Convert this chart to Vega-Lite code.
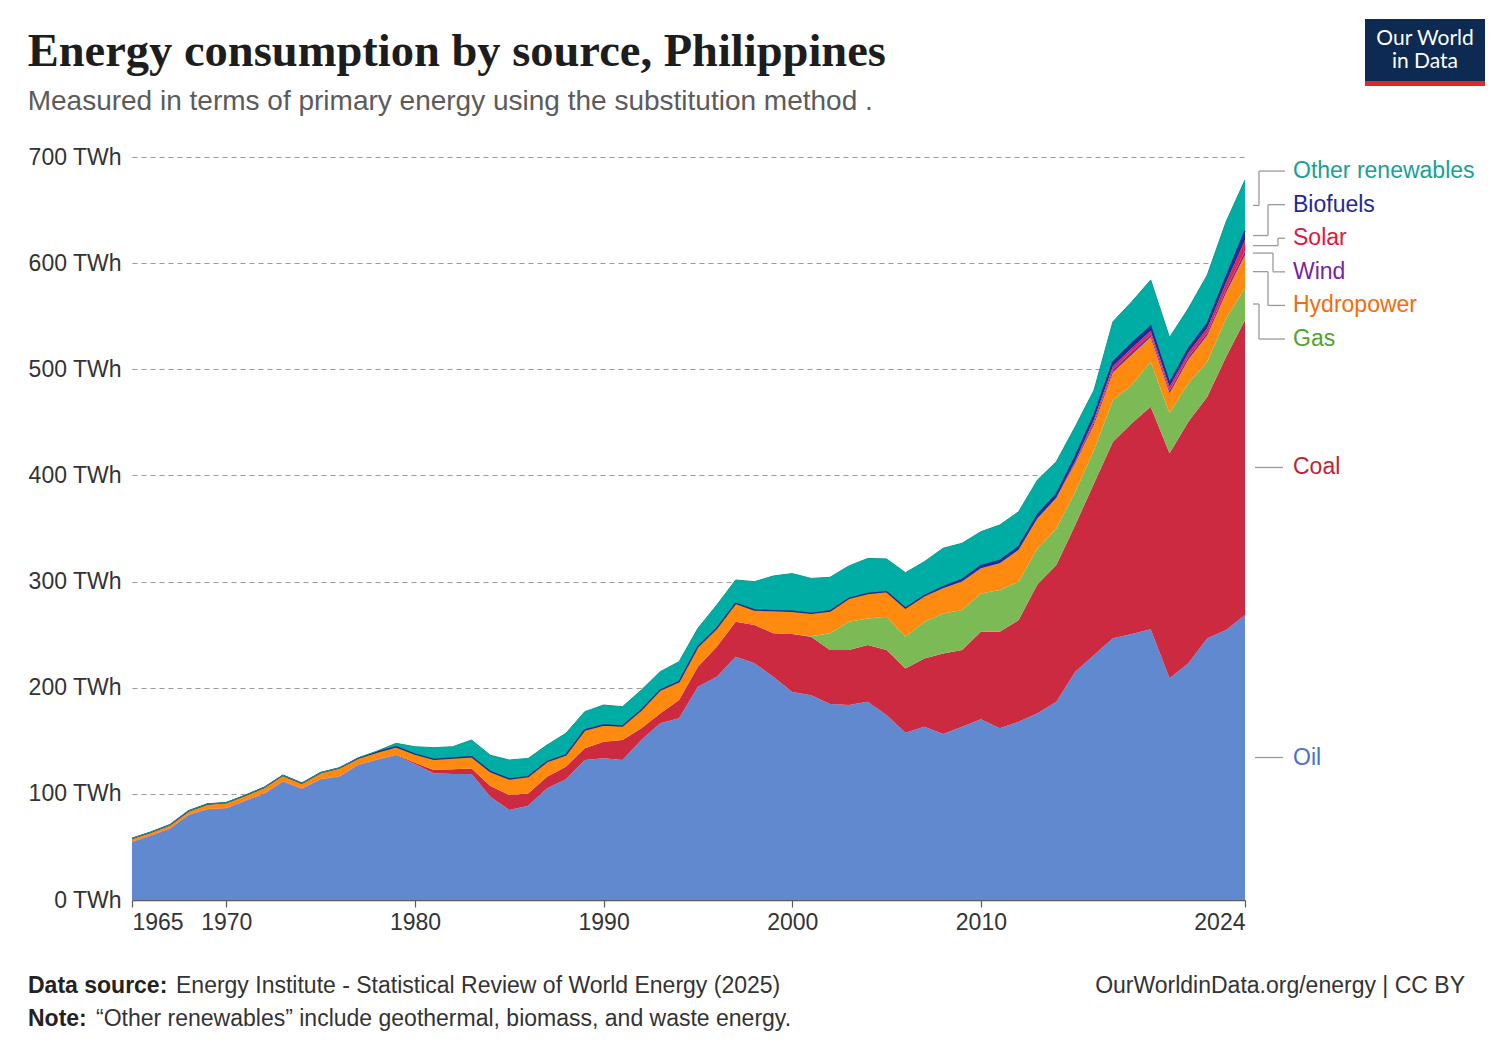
{
  "$schema": "https://vega.github.io/schema/vega-lite/v6.json",
  "description": "Energy consumption by source, Philippines (primary energy, substitution method)",
  "width": 1113,
  "height": 743,
  "autosize": {"type": "none"},
  "padding": {"left": 132, "top": 157, "right": 253, "bottom": 150},
  "background": "white",
  "config": {"view": {"stroke": null}, "font": "Liberation Sans"},
  "title": {
    "text": "Energy consumption by source, Philippines",
    "subtitle": "Measured in terms of primary energy using the substitution method .",
    "anchor": "start",
    "frame": "bounds",
    "font": "Liberation Serif",
    "fontSize": 46.5,
    "fontWeight": "bold",
    "color": "#1d1d1d",
    "subtitleFont": "Liberation Sans",
    "subtitleFontSize": 28,
    "subtitleColor": "#5b5b5b",
    "subtitlePadding": 13,
    "offset": -97
  },
  "datasets": {
    "energy": [
      {"year":1965,"source":"Oil","twh":54.3},{"year":1965,"source":"Coal","twh":0.5},{"year":1965,"source":"Gas","twh":0},{"year":1965,"source":"Hydropower","twh":3.2},{"year":1965,"source":"Wind","twh":0},{"year":1965,"source":"Solar","twh":0},{"year":1965,"source":"Biofuels","twh":0},{"year":1965,"source":"Other renewables","twh":0},
      {"year":1966,"source":"Oil","twh":60.6},{"year":1966,"source":"Coal","twh":0.4},{"year":1966,"source":"Gas","twh":0},{"year":1966,"source":"Hydropower","twh":3.0},{"year":1966,"source":"Wind","twh":0},{"year":1966,"source":"Solar","twh":0},{"year":1966,"source":"Biofuels","twh":0},{"year":1966,"source":"Other renewables","twh":0},
      {"year":1967,"source":"Oil","twh":66.9},{"year":1967,"source":"Coal","twh":0.4},{"year":1967,"source":"Gas","twh":0},{"year":1967,"source":"Hydropower","twh":3.4},{"year":1967,"source":"Wind","twh":0},{"year":1967,"source":"Solar","twh":0},{"year":1967,"source":"Biofuels","twh":0},{"year":1967,"source":"Other renewables","twh":0},
      {"year":1968,"source":"Oil","twh":80.0},{"year":1968,"source":"Coal","twh":0.4},{"year":1968,"source":"Gas","twh":0},{"year":1968,"source":"Hydropower","twh":3.6},{"year":1968,"source":"Wind","twh":0},{"year":1968,"source":"Solar","twh":0},{"year":1968,"source":"Biofuels","twh":0},{"year":1968,"source":"Other renewables","twh":0},
      {"year":1969,"source":"Oil","twh":85.4},{"year":1969,"source":"Coal","twh":0.4},{"year":1969,"source":"Gas","twh":0},{"year":1969,"source":"Hydropower","twh":4.6},{"year":1969,"source":"Wind","twh":0},{"year":1969,"source":"Solar","twh":0},{"year":1969,"source":"Biofuels","twh":0},{"year":1969,"source":"Other renewables","twh":0},
      {"year":1970,"source":"Oil","twh":86.3},{"year":1970,"source":"Coal","twh":0.4},{"year":1970,"source":"Gas","twh":0},{"year":1970,"source":"Hydropower","twh":5.0},{"year":1970,"source":"Wind","twh":0},{"year":1970,"source":"Solar","twh":0},{"year":1970,"source":"Biofuels","twh":0},{"year":1970,"source":"Other renewables","twh":0},
      {"year":1971,"source":"Oil","twh":93.3},{"year":1971,"source":"Coal","twh":0.4},{"year":1971,"source":"Gas","twh":0},{"year":1971,"source":"Hydropower","twh":4.9},{"year":1971,"source":"Wind","twh":0},{"year":1971,"source":"Solar","twh":0},{"year":1971,"source":"Biofuels","twh":0},{"year":1971,"source":"Other renewables","twh":0},
      {"year":1972,"source":"Oil","twh":99.9},{"year":1972,"source":"Coal","twh":0.4},{"year":1972,"source":"Gas","twh":0},{"year":1972,"source":"Hydropower","twh":5.7},{"year":1972,"source":"Wind","twh":0},{"year":1972,"source":"Solar","twh":0},{"year":1972,"source":"Biofuels","twh":0},{"year":1972,"source":"Other renewables","twh":0},
      {"year":1973,"source":"Oil","twh":111.5},{"year":1973,"source":"Coal","twh":0.4},{"year":1973,"source":"Gas","twh":0},{"year":1973,"source":"Hydropower","twh":5.6},{"year":1973,"source":"Wind","twh":0},{"year":1973,"source":"Solar","twh":0},{"year":1973,"source":"Biofuels","twh":0},{"year":1973,"source":"Other renewables","twh":0},
      {"year":1974,"source":"Oil","twh":104.6},{"year":1974,"source":"Coal","twh":0.4},{"year":1974,"source":"Gas","twh":0},{"year":1974,"source":"Hydropower","twh":5.0},{"year":1974,"source":"Wind","twh":0},{"year":1974,"source":"Solar","twh":0},{"year":1974,"source":"Biofuels","twh":0},{"year":1974,"source":"Other renewables","twh":0},
      {"year":1975,"source":"Oil","twh":113.7},{"year":1975,"source":"Coal","twh":0.4},{"year":1975,"source":"Gas","twh":0},{"year":1975,"source":"Hydropower","twh":5.9},{"year":1975,"source":"Wind","twh":0},{"year":1975,"source":"Solar","twh":0},{"year":1975,"source":"Biofuels","twh":0},{"year":1975,"source":"Other renewables","twh":0},
      {"year":1976,"source":"Oil","twh":116.2},{"year":1976,"source":"Coal","twh":0.4},{"year":1976,"source":"Gas","twh":0},{"year":1976,"source":"Hydropower","twh":7.8},{"year":1976,"source":"Wind","twh":0},{"year":1976,"source":"Solar","twh":0},{"year":1976,"source":"Biofuels","twh":0},{"year":1976,"source":"Other renewables","twh":0},
      {"year":1977,"source":"Oil","twh":127.2},{"year":1977,"source":"Coal","twh":0.5},{"year":1977,"source":"Gas","twh":0},{"year":1977,"source":"Hydropower","twh":6.0},{"year":1977,"source":"Wind","twh":0},{"year":1977,"source":"Solar","twh":0},{"year":1977,"source":"Biofuels","twh":0},{"year":1977,"source":"Other renewables","twh":0.3},
      {"year":1978,"source":"Oil","twh":131.9},{"year":1978,"source":"Coal","twh":0.5},{"year":1978,"source":"Gas","twh":0},{"year":1978,"source":"Hydropower","twh":7.0},{"year":1978,"source":"Wind","twh":0},{"year":1978,"source":"Solar","twh":0},{"year":1978,"source":"Biofuels","twh":0},{"year":1978,"source":"Other renewables","twh":1.0},
      {"year":1979,"source":"Oil","twh":136.3},{"year":1979,"source":"Coal","twh":0.6},{"year":1979,"source":"Gas","twh":0},{"year":1979,"source":"Hydropower","twh":7.5},{"year":1979,"source":"Wind","twh":0},{"year":1979,"source":"Solar","twh":0},{"year":1979,"source":"Biofuels","twh":0},{"year":1979,"source":"Other renewables","twh":3.2},
      {"year":1980,"source":"Oil","twh":127.8},{"year":1980,"source":"Coal","twh":1.5},{"year":1980,"source":"Gas","twh":0},{"year":1980,"source":"Hydropower","twh":8.2},{"year":1980,"source":"Wind","twh":0},{"year":1980,"source":"Solar","twh":0},{"year":1980,"source":"Biofuels","twh":0},{"year":1980,"source":"Other renewables","twh":6.9},
      {"year":1981,"source":"Oil","twh":119.4},{"year":1981,"source":"Coal","twh":3.1},{"year":1981,"source":"Gas","twh":0},{"year":1981,"source":"Hydropower","twh":10.0},{"year":1981,"source":"Wind","twh":0},{"year":1981,"source":"Solar","twh":0},{"year":1981,"source":"Biofuels","twh":0},{"year":1981,"source":"Other renewables","twh":11.0},
      {"year":1982,"source":"Oil","twh":118.7},{"year":1982,"source":"Coal","twh":4.4},{"year":1982,"source":"Gas","twh":0},{"year":1982,"source":"Hydropower","twh":10.7},{"year":1982,"source":"Wind","twh":0},{"year":1982,"source":"Solar","twh":0},{"year":1982,"source":"Biofuels","twh":0},{"year":1982,"source":"Other renewables","twh":10.6},
      {"year":1983,"source":"Oil","twh":118.7},{"year":1983,"source":"Coal","twh":5.3},{"year":1983,"source":"Gas","twh":0},{"year":1983,"source":"Hydropower","twh":11.0},{"year":1983,"source":"Wind","twh":0},{"year":1983,"source":"Solar","twh":0},{"year":1983,"source":"Biofuels","twh":0},{"year":1983,"source":"Other renewables","twh":15.7},
      {"year":1984,"source":"Oil","twh":97.3},{"year":1984,"source":"Coal","twh":10.1},{"year":1984,"source":"Gas","twh":0},{"year":1984,"source":"Hydropower","twh":13.5},{"year":1984,"source":"Wind","twh":0},{"year":1984,"source":"Solar","twh":0},{"year":1984,"source":"Biofuels","twh":0},{"year":1984,"source":"Other renewables","twh":15.4},
      {"year":1985,"source":"Oil","twh":84.8},{"year":1985,"source":"Coal","twh":14.1},{"year":1985,"source":"Gas","twh":0},{"year":1985,"source":"Hydropower","twh":15.1},{"year":1985,"source":"Wind","twh":0},{"year":1985,"source":"Solar","twh":0},{"year":1985,"source":"Biofuels","twh":0},{"year":1985,"source":"Other renewables","twh":17.9},
      {"year":1986,"source":"Oil","twh":88.9},{"year":1986,"source":"Coal","twh":11.5},{"year":1986,"source":"Gas","twh":0},{"year":1986,"source":"Hydropower","twh":15.8},{"year":1986,"source":"Wind","twh":0},{"year":1986,"source":"Solar","twh":0},{"year":1986,"source":"Biofuels","twh":0},{"year":1986,"source":"Other renewables","twh":17.2},
      {"year":1987,"source":"Oil","twh":105.2},{"year":1987,"source":"Coal","twh":11.0},{"year":1987,"source":"Gas","twh":0},{"year":1987,"source":"Hydropower","twh":14.1},{"year":1987,"source":"Wind","twh":0},{"year":1987,"source":"Solar","twh":0},{"year":1987,"source":"Biofuels","twh":0},{"year":1987,"source":"Other renewables","twh":15.7},
      {"year":1988,"source":"Oil","twh":113.7},{"year":1988,"source":"Coal","twh":11.9},{"year":1988,"source":"Gas","twh":0},{"year":1988,"source":"Hydropower","twh":11.0},{"year":1988,"source":"Wind","twh":0},{"year":1988,"source":"Solar","twh":0},{"year":1988,"source":"Biofuels","twh":0},{"year":1988,"source":"Other renewables","twh":20.4},
      {"year":1989,"source":"Oil","twh":131.9},{"year":1989,"source":"Coal","twh":11.0},{"year":1989,"source":"Gas","twh":0},{"year":1989,"source":"Hydropower","twh":17.3},{"year":1989,"source":"Wind","twh":0},{"year":1989,"source":"Solar","twh":0},{"year":1989,"source":"Biofuels","twh":0},{"year":1989,"source":"Other renewables","twh":17.2},
      {"year":1990,"source":"Oil","twh":133.5},{"year":1990,"source":"Coal","twh":15.7},{"year":1990,"source":"Gas","twh":0},{"year":1990,"source":"Hydropower","twh":15.7},{"year":1990,"source":"Wind","twh":0},{"year":1990,"source":"Solar","twh":0},{"year":1990,"source":"Biofuels","twh":0},{"year":1990,"source":"Other renewables","twh":18.8},
      {"year":1991,"source":"Oil","twh":131.9},{"year":1991,"source":"Coal","twh":18.8},{"year":1991,"source":"Gas","twh":0},{"year":1991,"source":"Hydropower","twh":13.2},{"year":1991,"source":"Wind","twh":0},{"year":1991,"source":"Solar","twh":0},{"year":1991,"source":"Biofuels","twh":0},{"year":1991,"source":"Other renewables","twh":18.2},
      {"year":1992,"source":"Oil","twh":150.7},{"year":1992,"source":"Coal","twh":11.0},{"year":1992,"source":"Gas","twh":0},{"year":1992,"source":"Hydropower","twh":17.3},{"year":1992,"source":"Wind","twh":0},{"year":1992,"source":"Solar","twh":0},{"year":1992,"source":"Biofuels","twh":0},{"year":1992,"source":"Other renewables","twh":18.8},
      {"year":1993,"source":"Oil","twh":166.5},{"year":1993,"source":"Coal","twh":9.3},{"year":1993,"source":"Gas","twh":0},{"year":1993,"source":"Hydropower","twh":22.0},{"year":1993,"source":"Wind","twh":0},{"year":1993,"source":"Solar","twh":0},{"year":1993,"source":"Biofuels","twh":0},{"year":1993,"source":"Other renewables","twh":17.3},
      {"year":1994,"source":"Oil","twh":171.2},{"year":1994,"source":"Coal","twh":17.2},{"year":1994,"source":"Gas","twh":0},{"year":1994,"source":"Hydropower","twh":17.3},{"year":1994,"source":"Wind","twh":0},{"year":1994,"source":"Solar","twh":0},{"year":1994,"source":"Biofuels","twh":0},{"year":1994,"source":"Other renewables","twh":18.8},
      {"year":1995,"source":"Oil","twh":201.0},{"year":1995,"source":"Coal","twh":18.8},{"year":1995,"source":"Gas","twh":0},{"year":1995,"source":"Hydropower","twh":18.8},{"year":1995,"source":"Wind","twh":0},{"year":1995,"source":"Solar","twh":0},{"year":1995,"source":"Biofuels","twh":0},{"year":1995,"source":"Other renewables","twh":17.4},
      {"year":1996,"source":"Oil","twh":210.4},{"year":1996,"source":"Coal","twh":28.2},{"year":1996,"source":"Gas","twh":0},{"year":1996,"source":"Hydropower","twh":17.4},{"year":1996,"source":"Wind","twh":0},{"year":1996,"source":"Solar","twh":0},{"year":1996,"source":"Biofuels","twh":0},{"year":1996,"source":"Other renewables","twh":21.9},
      {"year":1997,"source":"Oil","twh":229.2},{"year":1997,"source":"Coal","twh":32.9},{"year":1997,"source":"Gas","twh":0},{"year":1997,"source":"Hydropower","twh":17.3},{"year":1997,"source":"Wind","twh":0},{"year":1997,"source":"Solar","twh":0},{"year":1997,"source":"Biofuels","twh":0},{"year":1997,"source":"Other renewables","twh":22.1},
      {"year":1998,"source":"Oil","twh":223.0},{"year":1998,"source":"Coal","twh":36.1},{"year":1998,"source":"Gas","twh":0},{"year":1998,"source":"Hydropower","twh":14.1},{"year":1998,"source":"Wind","twh":0},{"year":1998,"source":"Solar","twh":0},{"year":1998,"source":"Biofuels","twh":0},{"year":1998,"source":"Other renewables","twh":26.7},
      {"year":1999,"source":"Oil","twh":210.4},{"year":1999,"source":"Coal","twh":40.8},{"year":1999,"source":"Gas","twh":0},{"year":1999,"source":"Hydropower","twh":21.4},{"year":1999,"source":"Wind","twh":0},{"year":1999,"source":"Solar","twh":0},{"year":1999,"source":"Biofuels","twh":0},{"year":1999,"source":"Other renewables","twh":32.7},
      {"year":2000,"source":"Oil","twh":196.0},{"year":2000,"source":"Coal","twh":54.5},{"year":2000,"source":"Gas","twh":0},{"year":2000,"source":"Hydropower","twh":21.5},{"year":2000,"source":"Wind","twh":0},{"year":2000,"source":"Solar","twh":0},{"year":2000,"source":"Biofuels","twh":0},{"year":2000,"source":"Other renewables","twh":35.5},
      {"year":2001,"source":"Oil","twh":193.0},{"year":2001,"source":"Coal","twh":55.0},{"year":2001,"source":"Gas","twh":0.5},{"year":2001,"source":"Hydropower","twh":21.5},{"year":2001,"source":"Wind","twh":0},{"year":2001,"source":"Solar","twh":0},{"year":2001,"source":"Biofuels","twh":0},{"year":2001,"source":"Other renewables","twh":33.0},
      {"year":2002,"source":"Oil","twh":184.7},{"year":2002,"source":"Coal","twh":50.8},{"year":2002,"source":"Gas","twh":15.7},{"year":2002,"source":"Hydropower","twh":21.1},{"year":2002,"source":"Wind","twh":0},{"year":2002,"source":"Solar","twh":0},{"year":2002,"source":"Biofuels","twh":0},{"year":2002,"source":"Other renewables","twh":31.7},
      {"year":2003,"source":"Oil","twh":183.7},{"year":2003,"source":"Coal","twh":51.8},{"year":2003,"source":"Gas","twh":26.6},{"year":2003,"source":"Hydropower","twh":22.0},{"year":2003,"source":"Wind","twh":0},{"year":2003,"source":"Solar","twh":0},{"year":2003,"source":"Biofuels","twh":0},{"year":2003,"source":"Other renewables","twh":30.6},
      {"year":2004,"source":"Oil","twh":186.8},{"year":2004,"source":"Coal","twh":53.4},{"year":2004,"source":"Gas","twh":25.1},{"year":2004,"source":"Hydropower","twh":23.5},{"year":2004,"source":"Wind","twh":0},{"year":2004,"source":"Solar","twh":0},{"year":2004,"source":"Biofuels","twh":0},{"year":2004,"source":"Other renewables","twh":33.0},
      {"year":2005,"source":"Oil","twh":174.3},{"year":2005,"source":"Coal","twh":61.2},{"year":2005,"source":"Gas","twh":31.4},{"year":2005,"source":"Hydropower","twh":23.5},{"year":2005,"source":"Wind","twh":0.1},{"year":2005,"source":"Solar","twh":0},{"year":2005,"source":"Biofuels","twh":0},{"year":2005,"source":"Other renewables","twh":30.8},
      {"year":2006,"source":"Oil","twh":157.6},{"year":2006,"source":"Coal","twh":60.6},{"year":2006,"source":"Gas","twh":29.8},{"year":2006,"source":"Hydropower","twh":26.8},{"year":2006,"source":"Wind","twh":0.2},{"year":2006,"source":"Solar","twh":0},{"year":2006,"source":"Biofuels","twh":0},{"year":2006,"source":"Other renewables","twh":33.4},
      {"year":2007,"source":"Oil","twh":163.3},{"year":2007,"source":"Coal","twh":64.3},{"year":2007,"source":"Gas","twh":34.5},{"year":2007,"source":"Hydropower","twh":23.6},{"year":2007,"source":"Wind","twh":0.2},{"year":2007,"source":"Solar","twh":0},{"year":2007,"source":"Biofuels","twh":0.8},{"year":2007,"source":"Other renewables","twh":32.0},
      {"year":2008,"source":"Oil","twh":156.4},{"year":2008,"source":"Coal","twh":75.9},{"year":2008,"source":"Gas","twh":37.7},{"year":2008,"source":"Hydropower","twh":23.6},{"year":2008,"source":"Wind","twh":0.2},{"year":2008,"source":"Solar","twh":0},{"year":2008,"source":"Biofuels","twh":1.5},{"year":2008,"source":"Other renewables","twh":36.1},
      {"year":2009,"source":"Oil","twh":163.3},{"year":2009,"source":"Coal","twh":72.2},{"year":2009,"source":"Gas","twh":37.7},{"year":2009,"source":"Hydropower","twh":26.7},{"year":2009,"source":"Wind","twh":0.2},{"year":2009,"source":"Solar","twh":0},{"year":2009,"source":"Biofuels","twh":2.0},{"year":2009,"source":"Other renewables","twh":34.0},
      {"year":2010,"source":"Oil","twh":170.2},{"year":2010,"source":"Coal","twh":82.5},{"year":2010,"source":"Gas","twh":36.1},{"year":2010,"source":"Hydropower","twh":23.6},{"year":2010,"source":"Wind","twh":0.2},{"year":2010,"source":"Solar","twh":0},{"year":2010,"source":"Biofuels","twh":2.3},{"year":2010,"source":"Other renewables","twh":32.1},
      {"year":2011,"source":"Oil","twh":161.7},{"year":2011,"source":"Coal","twh":91.0},{"year":2011,"source":"Gas","twh":39.3},{"year":2011,"source":"Hydropower","twh":25.1},{"year":2011,"source":"Wind","twh":0.2},{"year":2011,"source":"Solar","twh":0},{"year":2011,"source":"Biofuels","twh":2.6},{"year":2011,"source":"Other renewables","twh":33.4},
      {"year":2012,"source":"Oil","twh":168.0},{"year":2012,"source":"Coal","twh":95.8},{"year":2012,"source":"Gas","twh":36.1},{"year":2012,"source":"Hydropower","twh":29.9},{"year":2012,"source":"Wind","twh":0.2},{"year":2012,"source":"Solar","twh":0},{"year":2012,"source":"Biofuels","twh":3.0},{"year":2012,"source":"Other renewables","twh":32.8},
      {"year":2013,"source":"Oil","twh":176.0},{"year":2013,"source":"Coal","twh":121.5},{"year":2013,"source":"Gas","twh":33.9},{"year":2013,"source":"Hydropower","twh":28.1},{"year":2013,"source":"Wind","twh":0.2},{"year":2013,"source":"Solar","twh":0},{"year":2013,"source":"Biofuels","twh":3.3},{"year":2013,"source":"Other renewables","twh":32.7},
      {"year":2014,"source":"Oil","twh":186.8},{"year":2014,"source":"Coal","twh":128.8},{"year":2014,"source":"Gas","twh":34.5},{"year":2014,"source":"Hydropower","twh":28.3},{"year":2014,"source":"Wind","twh":0.4},{"year":2014,"source":"Solar","twh":0.1},{"year":2014,"source":"Biofuels","twh":3.6},{"year":2014,"source":"Other renewables","twh":30.5},
      {"year":2015,"source":"Oil","twh":215.1},{"year":2015,"source":"Coal","twh":138.2},{"year":2015,"source":"Gas","twh":31.4},{"year":2015,"source":"Hydropower","twh":26.7},{"year":2015,"source":"Wind","twh":1.9},{"year":2015,"source":"Solar","twh":0.4},{"year":2015,"source":"Biofuels","twh":4.0},{"year":2015,"source":"Other renewables","twh":28.2},
      {"year":2016,"source":"Oil","twh":230.8},{"year":2016,"source":"Coal","twh":161.8},{"year":2016,"source":"Gas","twh":31.4},{"year":2016,"source":"Hydropower","twh":24.0},{"year":2016,"source":"Wind","twh":2.4},{"year":2016,"source":"Solar","twh":2.6},{"year":2016,"source":"Biofuels","twh":4.2},{"year":2016,"source":"Other renewables","twh":23.3},
      {"year":2017,"source":"Oil","twh":246.5},{"year":2017,"source":"Coal","twh":185.3},{"year":2017,"source":"Gas","twh":39.3},{"year":2017,"source":"Hydropower","twh":25.9},{"year":2017,"source":"Wind","twh":2.8},{"year":2017,"source":"Solar","twh":3.0},{"year":2017,"source":"Biofuels","twh":4.4},{"year":2017,"source":"Other renewables","twh":37.7},
      {"year":2018,"source":"Oil","twh":250.6},{"year":2018,"source":"Coal","twh":198.5},{"year":2018,"source":"Gas","twh":36.1},{"year":2018,"source":"Hydropower","twh":28.5},{"year":2018,"source":"Wind","twh":3.0},{"year":2018,"source":"Solar","twh":3.2},{"year":2018,"source":"Biofuels","twh":4.6},{"year":2018,"source":"Other renewables","twh":39.2},
      {"year":2019,"source":"Oil","twh":255.0},{"year":2019,"source":"Coal","twh":209.7},{"year":2019,"source":"Gas","twh":42.5},{"year":2019,"source":"Hydropower","twh":23.0},{"year":2019,"source":"Wind","twh":2.6},{"year":2019,"source":"Solar","twh":3.2},{"year":2019,"source":"Biofuels","twh":4.8},{"year":2019,"source":"Other renewables","twh":43.3},
      {"year":2020,"source":"Oil","twh":208.9},{"year":2020,"source":"Coal","twh":211.9},{"year":2020,"source":"Gas","twh":37.7},{"year":2020,"source":"Hydropower","twh":18.8},{"year":2020,"source":"Wind","twh":2.6},{"year":2020,"source":"Solar","twh":3.3},{"year":2020,"source":"Biofuels","twh":3.8},{"year":2020,"source":"Other renewables","twh":43.0},
      {"year":2021,"source":"Oil","twh":223.0},{"year":2021,"source":"Coal","twh":227.6},{"year":2021,"source":"Gas","twh":36.2},{"year":2021,"source":"Hydropower","twh":22.4},{"year":2021,"source":"Wind","twh":2.8},{"year":2021,"source":"Solar","twh":3.6},{"year":2021,"source":"Biofuels","twh":4.2},{"year":2021,"source":"Other renewables","twh":37.6},
      {"year":2022,"source":"Oil","twh":246.5},{"year":2022,"source":"Coal","twh":227.6},{"year":2022,"source":"Gas","twh":33.1},{"year":2022,"source":"Hydropower","twh":24.7},{"year":2022,"source":"Wind","twh":2.6},{"year":2022,"source":"Solar","twh":4.2},{"year":2022,"source":"Biofuels","twh":4.6},{"year":2022,"source":"Other renewables","twh":45.5},
      {"year":2023,"source":"Oil","twh":254.4},{"year":2023,"source":"Coal","twh":257.5},{"year":2023,"source":"Gas","twh":36.1},{"year":2023,"source":"Hydropower","twh":24.0},{"year":2023,"source":"Wind","twh":3.5},{"year":2023,"source":"Solar","twh":6.0},{"year":2023,"source":"Biofuels","twh":6.0},{"year":2023,"source":"Other renewables","twh":51.6},
      {"year":2024,"source":"Oil","twh":268.5},{"year":2024,"source":"Coal","twh":278.0},{"year":2024,"source":"Gas","twh":30.0},{"year":2024,"source":"Hydropower","twh":31.0},{"year":2024,"source":"Wind","twh":4.0},{"year":2024,"source":"Solar","twh":10.0},{"year":2024,"source":"Biofuels","twh":9.0},{"year":2024,"source":"Other renewables","twh":47.8}
    ],
    "notes": [{"note": "x"}]
  },
  "resolve": {"scale": {"color": "independent"}},
  "layer": [
    {
      "data": {"name": "energy"},
      "transform": [
        {"calculate": "indexof(['Oil','Coal','Gas','Hydropower','Wind','Solar','Biofuels','Other renewables'], datum.source)", "as": "rank"}
      ],
      "mark": {"type": "area", "interpolate": "linear"},
      "encoding": {
        "x": {
          "field": "year",
          "type": "quantitative",
          "scale": {"domain": [1965, 2024], "nice": false, "zero": false},
          "axis": {
            "title": null,
            "values": [1965, 1970, 1980, 1990, 2000, 2010, 2024],
            "format": "d",
            "grid": false,
            "domainColor": "#5b5b5b",
            "domainWidth": 1.5,
            "tickColor": "#5b5b5b",
            "tickWidth": 1.2,
            "tickSize": 7,
            "labelFontSize": 23,
            "labelColor": "#333333",
            "labelPadding": 4,
            "labelFlush": true,
            "labelOverlap": false
          }
        },
        "y": {
          "field": "twh",
          "type": "quantitative",
          "stack": "zero",
          "scale": {"domain": [0, 700], "nice": false},
          "axis": {
            "title": null,
            "values": [0, 100, 200, 300, 400, 500, 600, 700],
            "labelExpr": "datum.value + ' TWh'",
            "grid": true,
            "gridDash": [5, 4],
            "gridColor": "#9a9a9a",
            "gridWidth": 1,
            "domain": false,
            "ticks": false,
            "labelFontSize": 23,
            "labelColor": "#333333",
            "labelPadding": 11
          }
        },
        "color": {
          "field": "source",
          "type": "nominal",
          "scale": {
            "domain": ["Oil", "Coal", "Gas", "Hydropower", "Wind", "Solar", "Biofuels", "Other renewables"],
            "range": ["#6089d0", "#cc2a40", "#7cba56", "#ff8a10", "#7b2ba6", "#ec2245", "#1e2ca0", "#00ada4"]
          },
          "legend": null
        },
        "order": {"field": "rank", "type": "quantitative", "sort": "ascending"}
      }
    },
    {
      "data": {"name": "energy"},
      "transform": [
        {"filter": "datum.source != 'Other renewables'"},
        {"aggregate": [{"op": "sum", "field": "twh", "as": "below"}], "groupby": ["year"]}
      ],
      "mark": {"type": "line", "color": "#1b2a8f", "strokeWidth": 1.4},
      "encoding": {
        "x": {"field": "year", "type": "quantitative"},
        "y": {"field": "below", "type": "quantitative"}
      }
    },
    {
      "data": {"name": "energy"},
      "transform": [
        {"aggregate": [{"op": "sum", "field": "twh", "as": "total"}], "groupby": ["year"]}
      ],
      "mark": {"type": "line", "color": "#0a9990", "strokeWidth": 1},
      "encoding": {
        "x": {"field": "year", "type": "quantitative"},
        "y": {"field": "total", "type": "quantitative"}
      }
    },
    {
      "data": {"name": "energy"},
      "transform": [
        {"filter": "datum.year == 2024"},
        {"calculate": "indexof(['Oil','Coal','Gas','Hydropower','Wind','Solar','Biofuels','Other renewables'], datum.source)", "as": "rank"},
        {"stack": "twh", "groupby": ["year"], "sort": [{"field": "rank", "order": "ascending"}], "as": ["lo", "hi"]},
        {"calculate": "(datum.lo + datum.hi) / 2", "as": "mid"},
        {"calculate": "datum.rank >= 2 ? 528.5 + (datum.rank - 2) * 31.65 : datum.mid", "as": "labelAt"},
        {"calculate": "2024 + (datum.rank >= 2 ? 8 : 10) / 18.864", "as": "x0"},
        {"calculate": "2024 + [10, 10, 14, 23, 28, 33, 23, 14][datum.rank] / 18.864", "as": "xElbow"},
        {"calculate": "2024 + (datum.rank >= 2 ? 40 : 38) / 18.864", "as": "x1"}
      ],
      "layer": [
        {
          "mark": {"type": "rule", "color": "#9a9a9a", "strokeWidth": 1.3},
          "encoding": {
            "x": {"field": "x0", "type": "quantitative"},
            "x2": {"field": "xElbow"},
            "y": {"field": "mid", "type": "quantitative"}
          }
        },
        {
          "mark": {"type": "rule", "color": "#9a9a9a", "strokeWidth": 1.3},
          "encoding": {
            "x": {"field": "xElbow", "type": "quantitative"},
            "y": {"field": "mid", "type": "quantitative"},
            "y2": {"field": "labelAt"}
          }
        },
        {
          "mark": {"type": "rule", "color": "#9a9a9a", "strokeWidth": 1.3},
          "encoding": {
            "x": {"field": "xElbow", "type": "quantitative"},
            "x2": {"field": "x1"},
            "y": {"field": "labelAt", "type": "quantitative"}
          }
        },
        {
          "mark": {"type": "text", "align": "left", "baseline": "middle", "dx": 48, "fontSize": 23},
          "encoding": {
            "x": {"field": "year", "type": "quantitative"},
            "y": {"field": "labelAt", "type": "quantitative"},
            "text": {"field": "source"},
            "color": {
              "field": "source",
              "type": "nominal",
              "scale": {
                "domain": ["Oil", "Coal", "Gas", "Hydropower", "Wind", "Solar", "Biofuels", "Other renewables"],
                "range": ["#4a72c9", "#c21f35", "#52a32b", "#f46b0c", "#7a1fa2", "#e3173e", "#1c2a9a", "#16a295"]
              },
              "legend": null
            }
          }
        }
      ]
    },
    {
      "data": {"values": [{"box": "logo"}]},
      "layer": [
        {
          "mark": {"type": "rect", "color": "#0d2a52", "xOffset": 120, "x2Offset": 240, "yOffset": -138, "y2Offset": -76},
          "encoding": {"x": {"datum": 2024}, "x2": {"datum": 2024}, "y": {"datum": 700}, "y2": {"datum": 700}}
        },
        {
          "mark": {"type": "rect", "color": "#dc2a24", "xOffset": 120, "x2Offset": 240, "yOffset": -76, "y2Offset": -71},
          "encoding": {"x": {"datum": 2024}, "x2": {"datum": 2024}, "y": {"datum": 700}, "y2": {"datum": 700}}
        },
        {
          "mark": {"type": "text", "color": "white", "font": "Lato", "fontSize": 21, "align": "center", "baseline": "middle", "dx": 180, "dy": -118},
          "encoding": {"x": {"datum": 2024}, "y": {"datum": 700}, "text": {"value": "Our World"}}
        },
        {
          "mark": {"type": "text", "color": "white", "font": "Lato", "fontSize": 21, "align": "center", "baseline": "middle", "dx": 180, "dy": -95},
          "encoding": {"x": {"datum": 2024}, "y": {"datum": 700}, "text": {"value": "in Data"}}
        }
      ]
    },
    {
      "data": {"name": "notes"},
      "layer": [
        {
          "mark": {"type": "text", "align": "left", "baseline": "middle", "fontSize": 23, "fontWeight": "bold", "color": "#222222", "dx": -104, "dy": 86},
          "encoding": {"x": {"datum": 1965}, "y": {"datum": 0}, "text": {"value": "Data source:"}}
        },
        {
          "mark": {"type": "text", "align": "left", "baseline": "middle", "fontSize": 23, "color": "#333333", "dx": 44, "dy": 86},
          "encoding": {"x": {"datum": 1965}, "y": {"datum": 0}, "text": {"value": "Energy Institute - Statistical Review of World Energy (2025)"}}
        },
        {
          "mark": {"type": "text", "align": "left", "baseline": "middle", "fontSize": 23, "fontWeight": "bold", "color": "#222222", "dx": -104, "dy": 119},
          "encoding": {"x": {"datum": 1965}, "y": {"datum": 0}, "text": {"value": "Note:"}}
        },
        {
          "mark": {"type": "text", "align": "left", "baseline": "middle", "fontSize": 23, "color": "#333333", "dx": -36, "dy": 119},
          "encoding": {"x": {"datum": 1965}, "y": {"datum": 0}, "text": {"value": "“Other renewables” include geothermal, biomass, and waste energy."}}
        },
        {
          "mark": {"type": "text", "align": "right", "baseline": "middle", "fontSize": 23, "color": "#333333", "dx": 220, "dy": 86},
          "encoding": {"x": {"datum": 2024}, "y": {"datum": 0}, "text": {"value": "OurWorldinData.org/energy | CC BY"}}
        }
      ]
    }
  ]
}
